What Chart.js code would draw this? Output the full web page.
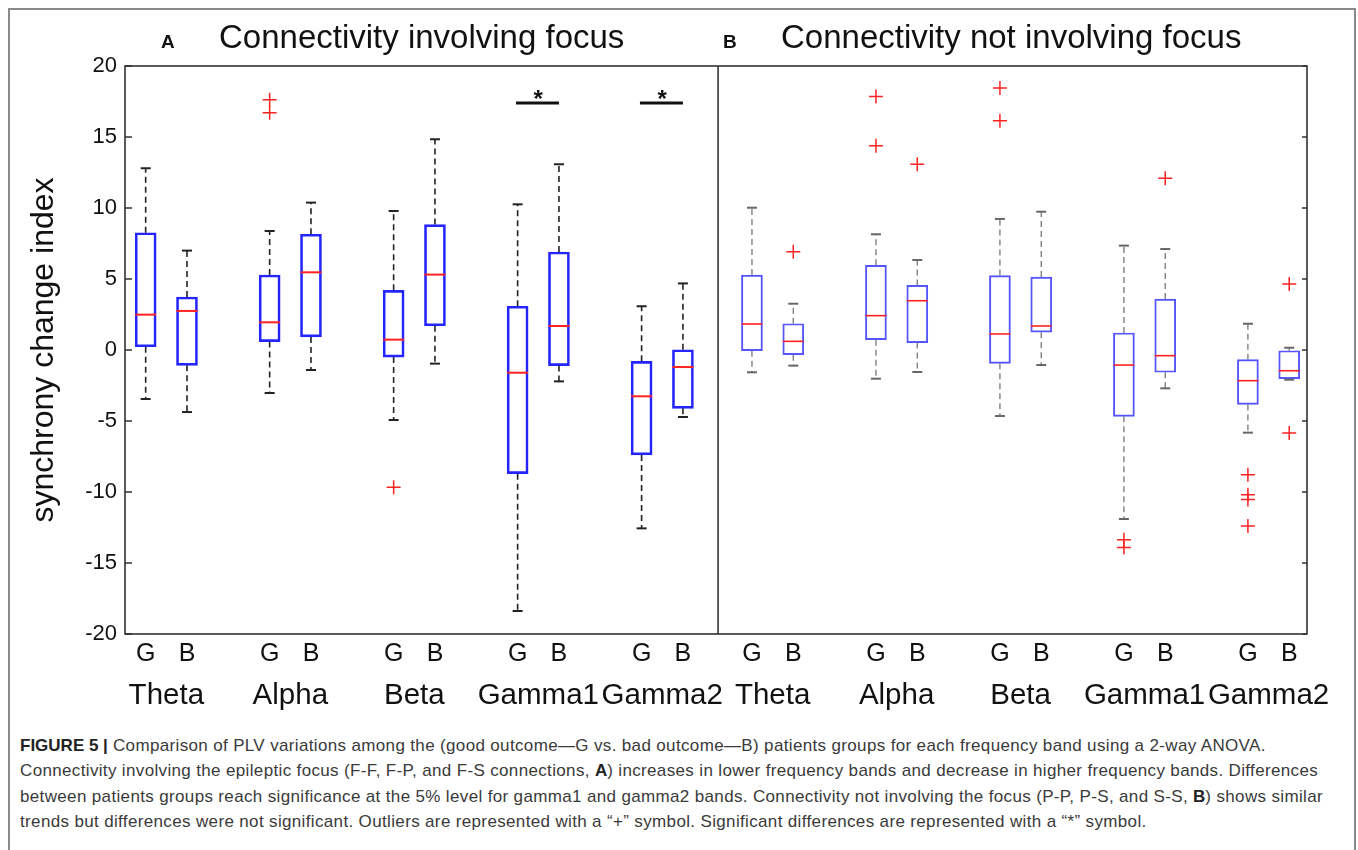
<!DOCTYPE html>
<html>
<head>
    <title>PLV synchrony change</title>
    <script src="https://cdn.jsdelivr.net/npm/chart.js"></script>
    <style>
        body { margin: 0; background: #fff; }
        #frame { position: absolute; left: 8px; top: 8px; width: 1344px; height: 900px; border: 2px solid #8a8a8a; }
        #wrap { position: absolute; left: 0; top: 0; width: 1358px; height: 720px; }
        #caption {
            position: absolute; left: 20px; top: 733px; width: 1334px;
            font-family: "Liberation Sans", Arial, sans-serif; font-size: 17px; letter-spacing: 0.35px;
            line-height: 25.3px; color: #3a3a3a; white-space: nowrap;
        }
        #caption b { color: #222; letter-spacing: 0; }
    </style>
</head>
<body>
    <div id="frame"></div>
    <div id="wrap"><canvas id="plvChart" width="1358" height="720"></canvas></div>
    <div id="caption">
        <b>FIGURE 5 |</b> Comparison of PLV variations among the (good outcome&#8212;G vs. bad outcome&#8212;B) patients groups for each frequency band using a 2-way ANOVA.<br>
        Connectivity involving the epileptic focus (F-F, F-P, and F-S connections, <b>A</b>) increases in lower frequency bands and decrease in higher frequency bands. Differences<br>
        between patients groups reach significance at the 5% level for gamma1 and gamma2 bands. Connectivity not involving the focus (P-P, P-S, and S-S, <b>B</b>) shows similar<br>
        trends but differences were not significant. Outliers are represented with a &#8220;+&#8221; symbol. Significant differences are represented with a &#8220;*&#8221; symbol.
    </div>

    <script>
        const bands = ['Theta', 'Alpha', 'Beta', 'Gamma1', 'Gamma2'];
        const groups = ['G', 'B'];

        // A: connectivity involving focus (G, B per band)
        const focusMin    = [-3.45, -4.37, -3.03, -1.41, -4.93, -0.96, -18.38, -2.21, -12.56, -4.72];
        const focusQ1     = [0.23, -1.08, 0.59, 0.92, -0.50, 1.71, -8.71, -1.10, -7.39, -4.11];
        const focusMedian = [2.49, 2.75, 1.95, 5.47, 0.73, 5.31, -1.60, 1.69, -3.26, -1.20];
        const focusQ3     = [8.26, 3.73, 5.28, 8.15, 4.20, 8.83, 3.08, 6.90, -0.80, 0.02];
        const focusMax    = [12.80, 7.00, 8.38, 10.38, 9.79, 14.84, 10.26, 13.08, 3.08, 4.69];
        const focusOutliers = [[], [], [17.63, 16.71], [], [-9.67], [], [], [], [], []];

        // B: connectivity not involving focus
        const otherMin    = [-1.57, -1.10, -2.02, -1.55, -4.65, -1.06, -11.90, -2.70, -5.82, -2.09];
        const otherQ1     = [-0.05, -0.33, 0.73, 0.52, -0.94, 1.25, -4.67, -1.57, -3.83, -2.02];
        const otherMedian = [1.83, 0.61, 2.42, 3.47, 1.13, 1.69, -1.06, -0.40, -2.16, -1.46];
        const otherQ3     = [5.28, 1.85, 5.96, 4.55, 5.24, 5.14, 1.20, 3.59, -0.68, -0.05];
        const otherMax    = [10.02, 3.26, 8.15, 6.34, 9.23, 9.74, 7.35, 7.11, 1.85, 0.16];
        const otherOutliers = [[], [6.92], [17.86, 14.39], [13.08], [18.45, 16.15], [], [-13.36, -13.90], [12.09],
                               [-8.78, -10.19, -10.52, -12.39], [4.65, -5.85]];

        const significantBands = ['Gamma1', 'Gamma2'];
        const significanceLevel = 17.4;
        const yTicks = [-20, -15, -10, -5, 0, 5, 10, 15, 20];

        // layout of the x axis (slot units)
        const panelStart = [1, 15.67];
        const panelSplit = 14.85;
        const xMin = 0.5, xMax = 29.1;

        const boxPos = (panel) => bands.flatMap((b, i) => groups.map((g, j) => panelStart[panel] + 3 * i + j));
        const posA = boxPos(0), posB = boxPos(1);
        const allPos = posA.concat(posB);
        const allGroupLabels = allPos.map((p, i) => groups[i % 2]);
        const bandPos = [0, 1].flatMap(p => bands.map((b, i) => panelStart[p] + 3 * i + 0.5));
        const bandLabels = bands.concat(bands);

        function boxes(pos, q1, q3) {
            return pos.map((p, i) => ({ x: p, y: [q1[i], q3[i]] }));
        }
        function whiskers(pos, lo, q1, q3, hi) {
            const pts = [];
            pos.forEach((p, i) => {
                pts.push({ x: p, y: q3[i] }, { x: p, y: hi[i] }, { x: p, y: null });
                pts.push({ x: p, y: q1[i] }, { x: p, y: lo[i] }, { x: p, y: null });
            });
            return pts;
        }
        function medians(pos, med) {
            return pos.map((p, i) => ({ x: p, y: med[i] }));
        }
        function outliers(pos, out) {
            return pos.flatMap((p, i) => out[i].map(v => ({ x: p, y: v })));
        }
        function sigBars() {
            const pts = [];
            significantBands.forEach(b => {
                const i = bands.indexOf(b);
                pts.push({ x: posA[2 * i] - 0.04, y: significanceLevel }, { x: posA[2 * i + 1], y: significanceLevel }, { x: posA[2 * i], y: null });
            });
            return pts;
        }

        const red = '#ff2222';
        const capRadius = (ctx) => (ctx.dataIndex % 3 === 1 ? 5 : 0);

        const figurePlugin = {
            id: 'figure',
            beforeDatasetsDraw(chart) {
                const { ctx, chartArea: a, scales: { x, y } } = chart;
                ctx.save();
                ctx.strokeStyle = '#333';
                ctx.lineWidth = 1.6;
                ctx.strokeRect(a.left, a.top, a.width, a.height);
                const xd = x.getPixelForValue(panelSplit);
                ctx.beginPath();
                ctx.moveTo(xd, a.top);
                ctx.lineTo(xd, a.bottom);
                ctx.stroke();
                ctx.lineWidth = 1.4;
                y.ticks.forEach(t => {
                    const py = y.getPixelForValue(t.value);
                    ctx.beginPath();
                    ctx.moveTo(a.left, py); ctx.lineTo(a.left + 7, py);
                    ctx.moveTo(a.right, py); ctx.lineTo(a.right - 5, py);
                    ctx.stroke();
                });
                ctx.restore();
            },
            afterDraw(chart) {
                const { ctx, scales: { x, y } } = chart;
                ctx.save();
                ctx.fillStyle = '#111';
                ctx.textBaseline = 'alphabetic';
                ctx.textAlign = 'left';
                ctx.font = 'bold 19px "Liberation Sans", Arial, sans-serif';
                ctx.fillText('A', 161, 48);
                ctx.fillText('B', 723, 48);
                ctx.font = '33px "Liberation Sans", Arial, sans-serif';
                ctx.fillText('Connectivity involving focus', 219, 48);
                ctx.fillText('Connectivity not involving focus', 781, 48);
                ctx.font = 'bold 24px "Liberation Sans", Arial, sans-serif';
                ctx.textAlign = 'center';
                significantBands.forEach(b => {
                    const i = bands.indexOf(b);
                    const cx = x.getPixelForValue((posA[2 * i] + posA[2 * i + 1]) / 2);
                    ctx.fillText('*', cx, y.getPixelForValue(significanceLevel) + 4);
                });
                ctx.restore();
            }
        };

        const ctx = document.getElementById('plvChart').getContext('2d');
        new Chart(ctx, {
            type: 'bar',
            data: {
                datasets: [
                    { type: 'scatter', data: medians(posA, focusMedian), pointStyle: 'line', pointRadius: 10.5,
                      borderColor: red, pointBorderWidth: 2, showLine: false },
                    { type: 'scatter', data: medians(posB, otherMedian), pointStyle: 'line', pointRadius: 10.5,
                      borderColor: red, pointBorderWidth: 1.6, showLine: false },
                    { type: 'scatter', data: outliers(posA, focusOutliers), pointStyle: 'cross', pointRadius: 7,
                      borderColor: red, pointBorderWidth: 1.5, showLine: false },
                    { type: 'scatter', data: outliers(posB, otherOutliers), pointStyle: 'cross', pointRadius: 7,
                      borderColor: red, pointBorderWidth: 1.5, showLine: false },
                    { type: 'line', data: whiskers(posA, focusMin, focusQ1, focusQ3, focusMax), borderColor: '#222',
                      borderWidth: 1.6, borderDash: [6, 4], spanGaps: false, pointStyle: 'line',
                      pointRadius: capRadius, pointBorderColor: '#222', pointBorderWidth: 2 },
                    { type: 'line', data: whiskers(posB, otherMin, otherQ1, otherQ3, otherMax), borderColor: '#777',
                      borderWidth: 1.3, borderDash: [6, 4], spanGaps: false, pointStyle: 'line',
                      pointRadius: capRadius, pointBorderColor: '#666', pointBorderWidth: 2 },
                    { type: 'line', data: sigBars(), borderColor: '#111', borderWidth: 3, spanGaps: false, pointRadius: 0 },
                    { type: 'bar', data: boxes(posA, focusQ1, focusQ3), grouped: false, barThickness: 21,
                      backgroundColor: 'rgba(0,0,0,0)', borderColor: '#2424ff', borderWidth: 2, borderSkipped: false },
                    { type: 'bar', data: boxes(posB, otherQ1, otherQ3), grouped: false, barThickness: 21,
                      backgroundColor: 'rgba(0,0,0,0)', borderColor: '#5555ff', borderWidth: 1.3, borderSkipped: false }
                ]
            },
            options: {
                responsive: false,
                animation: false,
                layout: { padding: { left: 0, right: 51, top: 66, bottom: 0 } },
                plugins: { legend: { display: false }, tooltip: { enabled: false } },
                scales: {
                    x: {
                        type: 'linear', position: 'bottom', weight: 0, min: xMin, max: xMax, offset: false,
                        grid: { display: false, drawTicks: false }, border: { display: false },
                        afterBuildTicks: (scale) => { scale.ticks = allPos.map(v => ({ value: v })); },
                        afterFit: (scale) => { scale.height = 36; },
                        ticks: {
                            autoSkip: false, maxRotation: 0, padding: 5, color: '#111',
                            font: { family: '"Liberation Sans", Arial, sans-serif', size: 25 },
                            callback: (v, i) => allGroupLabels[i]
                        }
                    },
                    x2: {
                        type: 'linear', position: 'bottom', weight: 1, min: xMin, max: xMax, offset: false,
                        grid: { display: false, drawTicks: false }, border: { display: false },
                        afterBuildTicks: (scale) => { scale.ticks = bandPos.map(v => ({ value: v })); },
                        afterFit: (scale) => { scale.height = 50; },
                        ticks: {
                            autoSkip: false, maxRotation: 0, padding: 8, color: '#111',
                            font: { family: '"Liberation Sans", Arial, sans-serif', size: 29.5 },
                            callback: (v, i) => bandLabels[i]
                        }
                    },
                    y: {
                        min: -20, max: 20,
                        grid: { display: false, drawTicks: false }, border: { display: false },
                        afterBuildTicks: (scale) => { scale.ticks = yTicks.map(v => ({ value: v })); },
                        afterFit: (scale) => { scale.width = 125; },
                        ticks: {
                            padding: 8, color: '#111',
                            font: { family: '"Liberation Sans", Arial, sans-serif', size: 22 }
                        },
                        title: {
                            display: true, text: 'synchrony change index', color: '#111',
                            font: { family: '"Liberation Sans", Arial, sans-serif', size: 32 },
                            padding: { top: 25, bottom: 0 }
                        }
                    }
                }
            },
            plugins: [figurePlugin]
        });
    </script>
</body>
</html>
